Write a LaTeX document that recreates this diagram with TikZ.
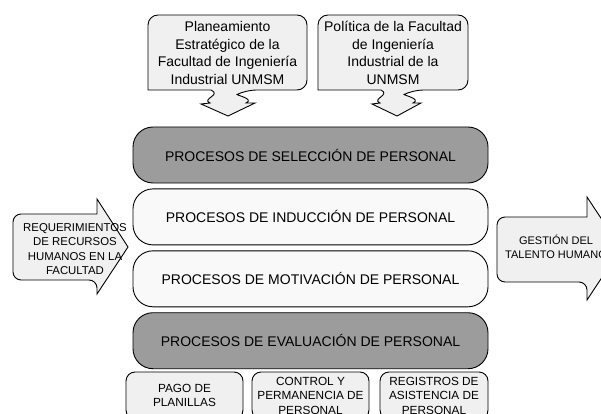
\documentclass[tikz,border=0pt]{standalone}
\usepackage{fontspec}
\setmainfont{Liberation Sans}
\usetikzlibrary{positioning}

\begin{document}
\begin{tikzpicture}[x=1pt, y=-1pt, node distance=5pt, line width=0.9pt,
    proc/.style={rectangle, rounded corners=20pt, draw, minimum width=355pt, minimum height=56pt, inner sep=0pt, font=\fontsize{14}{17}\selectfont},
    dark/.style={proc, fill=gray!78},
    light/.style={proc, fill=gray!5},
    callout/.style={draw, fill=gray!12},
    ctext/.style={align=center, inner sep=0pt, font=\fontsize{14}{17.5}\selectfont},
    atext/.style={align=center, inner sep=0pt, font=\fontsize{11.4}{14.5}\selectfont},
    tarea/.style={rectangle, rounded corners=9pt, draw, fill=gray!12, minimum height=47pt, inner sep=0pt, align=center, font=\fontsize{11.8}{14.5}\selectfont}]
        \useasboundingbox (0,0) rectangle (601,414);
        \clip (0,0) rectangle (601,414);

        % callouts on top
        \draw[callout] (227,15) [rounded corners=10pt] -- (307,15) -- (307,90) -- (246,90) [sharp corners]
            .. controls (236,95) and (255,99) .. (246,103) -- (255,103) -- (228,116) -- (201,104) -- (210,103)
            .. controls (201,99) and (222,95) .. (211,90) -- (148,90) [rounded corners=10pt] -- (148,15) -- cycle;
        \draw[callout] (393,15) [rounded corners=10pt] -- (468,15) -- (468,90) -- (413,90) [sharp corners]
            .. controls (403,95) and (422,99) .. (413,103) -- (421,103) -- (397,116) -- (372,104) -- (380,103)
            .. controls (371,99) and (391,95) .. (381,90) -- (318,90) [rounded corners=10pt] -- (318,15) -- cycle;
        \node[ctext] (plan) at (227.5,53) {Planeamiento\\Estratégico de la\\Facultad de Ingeniería\\Industrial UNMSM};
        \node[ctext] (poli) at (393,53) {Política de la Facultad\\de Ingeniería\\Industrial de la\\UNMSM};

        % side arrows
        \draw[callout] (55,214) [rounded corners=8pt] -- (13,214) -- (13,280) -- (97,280) [sharp corners]
            -- (97,294) -- (128,247) -- (97,199) -- (97,214) -- cycle;
        \draw[callout] (540,217) [rounded corners=8pt] -- (497,217) -- (497,282) -- (587,282) [sharp corners]
            -- (587,300) -- (621,248.5) -- (587,197) -- (587,217) -- cycle;
        \node[atext] (req) at (75,249) {REQUERIMIENTOS\\DE RECURSOS\\HUMANOS EN LA\\FACULTAD};
        \node[atext, font=\fontsize{11}{13.5}\selectfont] (gest) at (556,247) {GESTIÓN DEL\\TALENTO HUMANO};

        % processes
        \node[dark] (sel) at (310.5,155) {PROCESOS DE SELECCIÓN DE PERSONAL};
        \node[light] (ind) [below=of sel] {PROCESOS DE INDUCCIÓN DE PERSONAL};
        \node[light] (mot) [below=of ind] {PROCESOS DE MOTIVACIÓN DE PERSONAL};
        \node[dark] (eva) [below=of mot] {PROCESOS DE EVALUACIÓN DE PERSONAL};

        % tasks at the bottom
        \node[tarea, minimum width=117pt] (pago) at (184.5,395.5) {PAGO DE\\PLANILLAS};
        \node[tarea, minimum width=117pt] (cont) at (310.5,395.5) {CONTROL Y\\PERMANENCIA DE\\PERSONAL};
        \node[tarea, minimum width=108pt] (regi) at (434,395.5) {REGISTROS DE\\ASISTENCIA DE\\PERSONAL};
    \end{tikzpicture}
\end{document}
